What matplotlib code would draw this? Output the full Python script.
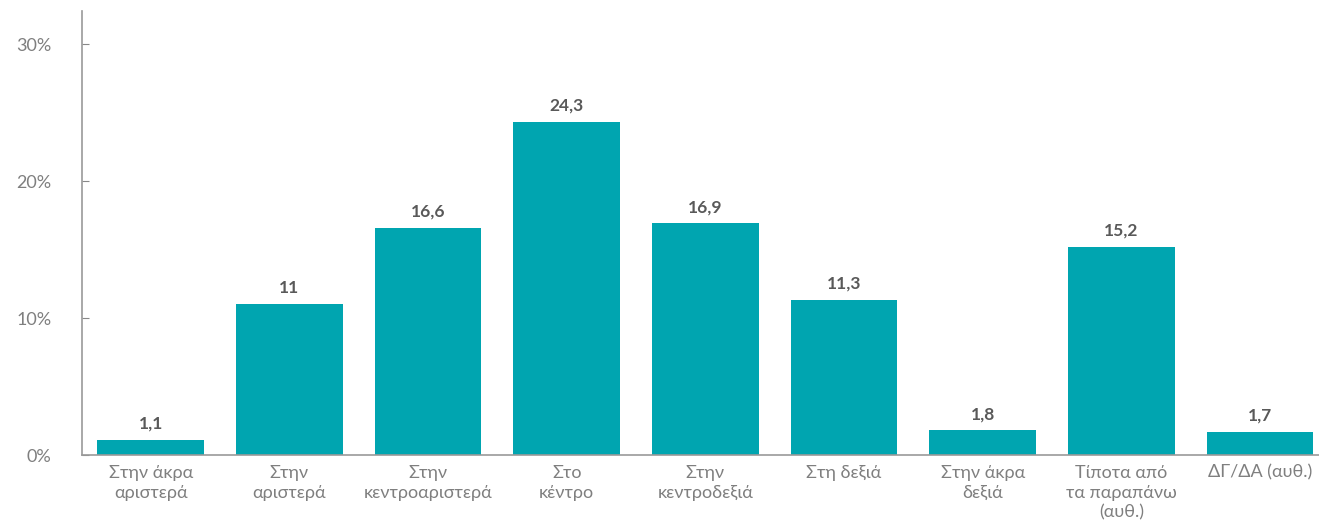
import matplotlib
matplotlib.use("Agg")
from matplotlib import pyplot as plt

# data
categories = ["Στην άκρα\nαριστερά", "Στην\nαριστερά", "Στην\nκεντροαριστερά",
              "Στο\nκέντρο", "Στην\nκεντροδεξιά", "Στη δεξιά",
              "Στην άκρα\nδεξιά", "Τίποτα από\nτα παραπάνω\n(αυθ.)", "ΔΓ/ΔΑ (αυθ.)"]
values = [1.1, 11, 16.6, 24.3, 16.9, 11.3, 1.8, 15.2, 1.7]
value_labels = ["1,1", "11", "16,6", "24,3", "16,9", "11,3", "1,8", "15,2", "1,7"]
y_ticks = [0, 10, 20, 30]
y_tick_labels = ["0%", "10%", "20%", "30%"]

plt.rcParams['font.family'] = ['Lato', 'DejaVu Sans']

fig = plt.figure(figsize=(13.19, 5.3), dpi=100)
ax = fig.add_axes([0.0622, 0.1415, 0.9378, 0.8375])

x = range(len(values))
bars = ax.bar(x, values, width=0.77, color="#00A5B0")
for b, lab in zip(bars, value_labels):
    ax.text(b.get_x() + b.get_width() / 2, b.get_height() + 0.6, lab,
            ha="center", va="bottom", fontsize=12.5, fontweight="bold", color="#595959")

ax.set_xlim(-0.495, 8.425)
ax.set_ylim(0, 32.4)
ax.set_xticks(list(x))
ax.set_xticklabels(categories, fontsize=13, color="#7f7f7f", linespacing=1.3)
ax.set_yticks(y_ticks)
ax.set_yticklabels(y_tick_labels, fontsize=13, color="#7f7f7f")
ax.tick_params(axis="x", length=0, pad=7)
ax.tick_params(axis="y", direction="in", length=5, color="#888888", pad=22)

for s in ["top", "right"]:
    ax.spines[s].set_visible(False)
ax.spines["left"].set_color("#999999")
ax.spines["bottom"].set_color("#999999")
ax.spines["left"].set_linewidth(1.2)
ax.spines["bottom"].set_linewidth(1.2)

fig.savefig("out.png", dpi=100)
